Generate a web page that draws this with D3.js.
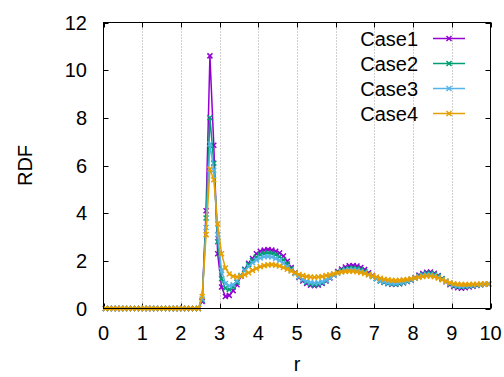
<!DOCTYPE html>
<html>
<head>
<meta charset="utf-8">
<script src="https://cdn.jsdelivr.net/npm/d3@7"></script>
<style>
  body { margin: 0; background: #fff; }
  text { font-family: "Liberation Sans", Arial, sans-serif; }
</style>
</head>
<body>
<svg id="chart" width="504" height="377"></svg>
<script>
// histogram bin centres, r = 0.05 ... 9.95
const rBins = d3.range(100).map(i => +(0.05 + 0.1 * i).toFixed(2));

const case1 = [
  0, 0, 0, 0, 0, 0, 0, 0, 0, 0, 0, 0, 0, 0, 0, 0, 0, 0, 0, 0, 0, 0, 0, 0, 0,
  0.3, 4.1, 10.6, 6.85, 2.3, 0.9, 0.5, 0.55, 0.75, 1.0, 1.35, 1.65, 1.9, 2.1, 2.3,
  2.4, 2.45, 2.47, 2.45, 2.4, 2.33, 2.2, 1.98, 1.72, 1.5, 1.3, 1.15, 1.05, 0.98, 0.96,
  0.98, 1.05, 1.15, 1.28, 1.42, 1.55, 1.66, 1.74, 1.79, 1.8, 1.78, 1.72, 1.63, 1.5, 1.38,
  1.27, 1.17, 1.1, 1.05, 1.02, 1.02, 1.04, 1.08, 1.13, 1.2, 1.3, 1.4, 1.47, 1.52, 1.53,
  1.48, 1.38, 1.25, 1.12, 1.0, 0.92, 0.87, 0.85, 0.87, 0.9, 0.94, 0.97, 1.0, 1.02, 1.03
];
const case2 = [
  0, 0, 0, 0, 0, 0, 0, 0, 0, 0, 0, 0, 0, 0, 0, 0, 0, 0, 0, 0, 0, 0, 0, 0, 0,
  0.35, 3.8, 8.0, 6.1, 2.8, 1.25, 0.85, 0.8, 0.9, 1.1, 1.38, 1.62, 1.84, 2.02, 2.16,
  2.26, 2.31, 2.33, 2.31, 2.26, 2.17, 2.04, 1.87, 1.67, 1.49, 1.33, 1.2, 1.1, 1.03, 1.0,
  1.02, 1.08, 1.18, 1.3, 1.42, 1.52, 1.6, 1.66, 1.69, 1.7, 1.68, 1.63, 1.55, 1.45, 1.35,
  1.25, 1.16, 1.1, 1.05, 1.03, 1.02, 1.04, 1.08, 1.13, 1.2, 1.28, 1.36, 1.43, 1.47, 1.48,
  1.44, 1.36, 1.25, 1.14, 1.03, 0.96, 0.91, 0.9, 0.91, 0.93, 0.96, 0.98, 1.0, 1.02, 1.03
];
const case3 = [
  0, 0, 0, 0, 0, 0, 0, 0, 0, 0, 0, 0, 0, 0, 0, 0, 0, 0, 0, 0, 0, 0, 0, 0, 0,
  0.4, 3.4, 6.9, 5.8, 3.1, 1.6, 1.05, 0.95, 1.0, 1.15, 1.38, 1.58, 1.76, 1.92, 2.04,
  2.12, 2.17, 2.18, 2.16, 2.1, 2.02, 1.9, 1.76, 1.6, 1.46, 1.33, 1.22, 1.14, 1.09, 1.07,
  1.08, 1.12, 1.2, 1.3, 1.4, 1.48, 1.55, 1.6, 1.62, 1.62, 1.6, 1.56, 1.5, 1.42, 1.33,
  1.25, 1.18, 1.12, 1.08, 1.06, 1.06, 1.08, 1.11, 1.16, 1.22, 1.28, 1.34, 1.39, 1.42, 1.42,
  1.38, 1.31, 1.22, 1.13, 1.05, 0.99, 0.95, 0.94, 0.95, 0.96, 0.98, 1.0, 1.01, 1.02, 1.03
];
const case4 = [
  0, 0, 0, 0, 0, 0, 0, 0, 0, 0, 0, 0, 0, 0, 0, 0, 0, 0, 0, 0, 0, 0, 0, 0, 0,
  0.5, 3.1, 5.85, 5.4, 3.55, 2.3, 1.7, 1.45, 1.35, 1.32, 1.35, 1.42, 1.5, 1.6, 1.68,
  1.75, 1.8, 1.83, 1.84, 1.82, 1.78, 1.72, 1.65, 1.57, 1.5, 1.43, 1.38, 1.34, 1.32, 1.31,
  1.32, 1.34, 1.38, 1.42, 1.46, 1.5, 1.53, 1.55, 1.56, 1.56, 1.54, 1.51, 1.47, 1.42, 1.37,
  1.32, 1.27, 1.23, 1.2, 1.18, 1.17, 1.18, 1.2, 1.22, 1.25, 1.28, 1.31, 1.34, 1.36, 1.36,
  1.33, 1.28, 1.21, 1.14, 1.08, 1.04, 1.02, 1.01, 1.01, 1.01, 1.02, 1.02, 1.03, 1.03, 1.03
];

const seriesNames = ['Case1', 'Case2', 'Case3', 'Case4'];
const seriesValues = [case1, case2, case3, case4];
const seriesColors = ['#9400d3', '#009e73', '#56b4e9', '#e69f00'];
const xTicks = [0, 1, 2, 3, 4, 5, 6, 7, 8, 9, 10];
const yTicks = [0, 2, 4, 6, 8, 10, 12];

const plot = {left: 103.5, right: 490.5, top: 22.5, bottom: 308.5};

const svg = d3.select('#chart');

const x = d3.scaleLinear().domain([0, 10]).range([plot.left, plot.right]);
const y = d3.scaleLinear().domain([0, 12]).range([plot.bottom, plot.top]);

// vertical dotted grid
svg.append('g')
  .selectAll('line')
  .data(xTicks.slice(1, -1))
  .join('line')
  .attr('x1', d => Math.round(x(d)) + 0.5)
  .attr('x2', d => Math.round(x(d)) + 0.5)
  .attr('y1', plot.top)
  .attr('y2', plot.bottom)
  .attr('stroke', '#a0a0a0')
  .attr('stroke-width', 1)
  .attr('stroke-dasharray', '1,2');

// ticks on all four sides, pointing inward
const tickLen = 5;
const ticks = svg.append('g').attr('stroke', '#000').attr('stroke-width', 1);
xTicks.forEach(t => {
  const px = Math.round(x(t)) + 0.5;
  ticks.append('line').attr('x1', px).attr('x2', px).attr('y1', plot.bottom).attr('y2', plot.bottom - tickLen);
  ticks.append('line').attr('x1', px).attr('x2', px).attr('y1', plot.top).attr('y2', plot.top + tickLen);
});
yTicks.forEach(t => {
  const py = Math.round(y(t)) + 0.5;
  ticks.append('line').attr('x1', plot.left).attr('x2', plot.left + tickLen).attr('y1', py).attr('y2', py);
  ticks.append('line').attr('x1', plot.right).attr('x2', plot.right - tickLen).attr('y1', py).attr('y2', py);
});

// tick labels
svg.append('g')
  .selectAll('text')
  .data(xTicks)
  .join('text')
  .attr('x', d => x(d))
  .attr('y', 340)
  .attr('text-anchor', 'middle')
  .attr('font-size', 20)
  .text(d => d);

svg.append('g')
  .selectAll('text')
  .data(yTicks)
  .join('text')
  .attr('x', 87)
  .attr('y', d => y(d) + 7)
  .attr('text-anchor', 'end')
  .attr('font-size', 20)
  .text(d => d);

// axis titles
svg.append('text')
  .attr('x', (plot.left + plot.right) / 2)
  .attr('y', 371)
  .attr('text-anchor', 'middle')
  .attr('font-size', 20)
  .text('r');

svg.append('text')
  .attr('transform', `translate(31.5, ${(plot.top + plot.bottom) / 2}) rotate(-90)`)
  .attr('text-anchor', 'middle')
  .attr('font-size', 20)
  .text('RDF');

// series
const line = d3.line()
  .x(d => x(d[0]))
  .y(d => y(d[1]));

const cross = 'M-2.5,-2.5L2.5,2.5M-2.5,2.5L2.5,-2.5';

seriesValues.forEach((vals, i) => {
  const pts = rBins.map((r, k) => [r, vals[k]]);
  const g = svg.append('g');
  g.append('path')
    .attr('d', line(pts))
    .attr('fill', 'none')
    .attr('stroke', seriesColors[i])
    .attr('stroke-width', 1.5);
  g.selectAll('path.pt')
    .data(pts)
    .join('path')
    .attr('class', 'pt')
    .attr('transform', d => `translate(${x(d[0])}, ${y(d[1])})`)
    .attr('d', cross)
    .attr('stroke', seriesColors[i])
    .attr('stroke-width', 1.5);
});

// legend
const legend = svg.append('g');
seriesNames.forEach((name, i) => {
  const ly = 38.5 + i * 25;
  legend.append('text')
    .attr('x', 418)
    .attr('y', ly + 7)
    .attr('text-anchor', 'end')
    .attr('font-size', 20)
    .text(name);
  legend.append('line')
    .attr('x1', 433).attr('x2', 465)
    .attr('y1', ly).attr('y2', ly)
    .attr('stroke', seriesColors[i])
    .attr('stroke-width', 1.5);
  legend.append('path')
    .attr('transform', `translate(449, ${ly})`)
    .attr('d', cross)
    .attr('stroke', seriesColors[i])
    .attr('stroke-width', 1.5);
});

// border
svg.append('rect')
  .attr('x', plot.left)
  .attr('y', plot.top)
  .attr('width', plot.right - plot.left)
  .attr('height', plot.bottom - plot.top)
  .attr('fill', 'none')
  .attr('stroke', '#000')
  .attr('stroke-width', 1);
</script>
</body>
</html>
